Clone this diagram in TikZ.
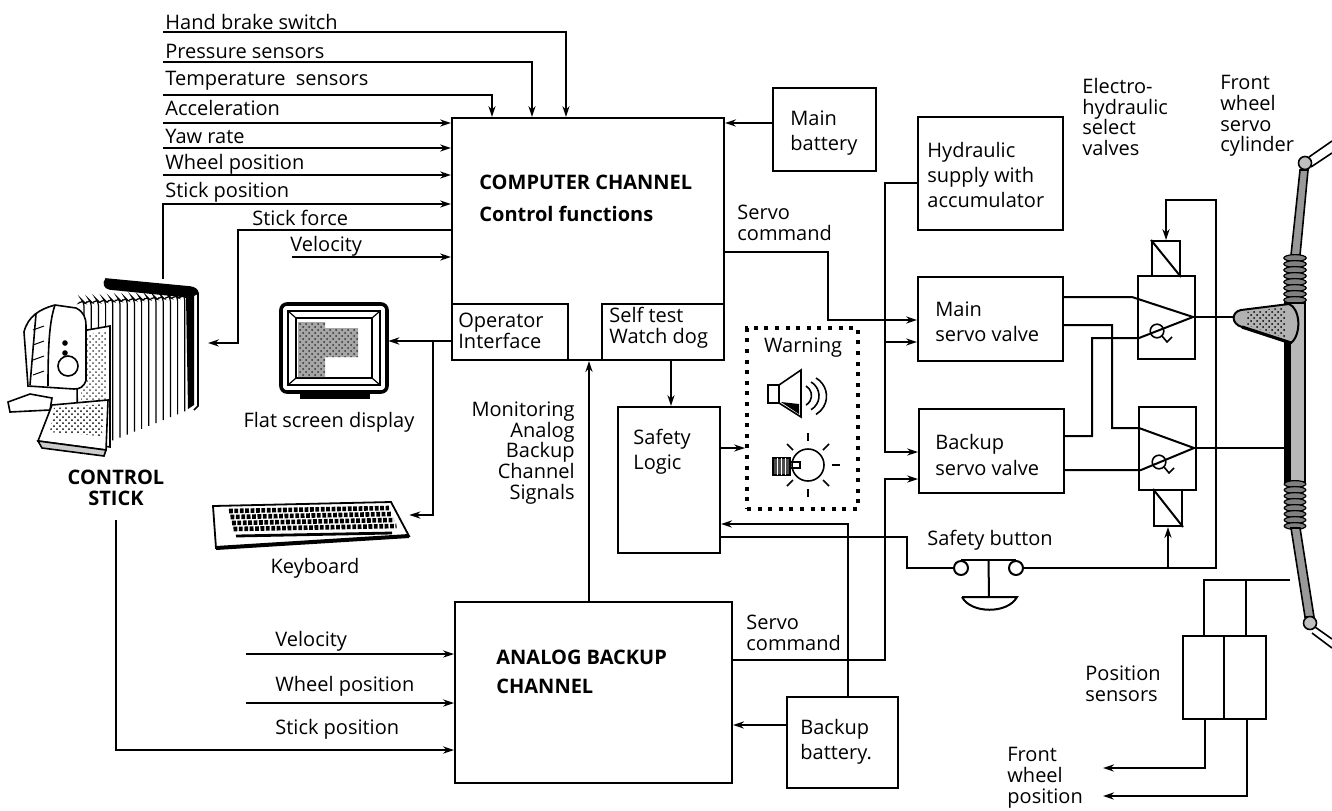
\documentclass[tikz,border=0pt]{standalone}
\usepackage{fontspec}
\setmainfont{Open Sans}
\usetikzlibrary{arrows.meta,fit,calc,patterns}
\newcommand\lblsize{\fontsize{10}{10.4}\selectfont}
\newcommand\lblwide{\fontsize{10}{12.6}\selectfont}

\begin{document}
\begin{tikzpicture}[x=0.5pt,y=-0.5pt,
  box/.style={draw,line width=1pt,inner sep=0pt},
  area/.style={inner sep=0pt},
  wire/.style={line width=1pt},
  arr/.style={wire,-{Stealth[length=5.5pt,width=3.6pt]}},
  lbl/.style={inner sep=0pt,align=left,font=\lblsize},
  lblw/.style={inner sep=0pt,align=left,font=\lblwide},
  hdr/.style={inner sep=0pt,align=left,font=\lblsize\bfseries},
  dotbox/.style={draw,line width=2pt,dash pattern=on 2pt off 3.3pt,inner sep=0pt},
  icon/.style={line width=0.8pt},
]
\useasboundingbox (0,0) rectangle (1332,810);

% ---------------- blocks ----------------
\node[box, fit={(452,118)(724,360)}] (cc) {};
\node[box, fit={(452,304)(568,360)}] (oi) {};
\node[box, fit={(602,304)(724,360)}] (st) {};
\node[box, fit={(773,88)(876,171)}] (mb) {};
\node[box, fit={(918,117)(1063,230)}] (hy) {};
\node[box, fit={(918,277)(1063,361)}] (msv) {};
\node[box, fit={(919,409)(1064,493)}] (bsv) {};
\node[box, fit={(618,407)(720,553)}] (sl) {};
\node[box, fit={(455,602)(732,783)}] (ab) {};
\node[box, fit={(787,697)(898,788)}] (bb) {};
\node[box, fit={(1138,276)(1195,359)}] (v1) {};
\node[box, fit={(1139,407)(1196,490)}] (v2) {};
\node[box, fit={(1152,241)(1180,276)}] (s1) {};
\node[box, fit={(1154,490)(1182,526)}] (s2) {};
\node[box, fit={(1183,636)(1224,719)}] (ps1) {};
\node[box, fit={(1224,636)(1266,719)}] (ps2) {};
\node[dotbox, fit={(747,328)(858,509)}] (warn) {};
\draw[wire] (s1.north west) -- (s1.south east);
\draw[wire] (s2.north west) -- (s2.south east);

% picture areas
\node[area, fit={(5,279)(200,456)}] (cs) {};
\node[area, fit={(280,303)(388,400)}] (scr) {};
\node[area, fit={(213,502)(409,548)}] (kbd) {};

% ---------------- texts ----------------
\node[lbl, anchor=west] (t-hb) at (165,22) {Hand brake switch};
\node[lbl, anchor=west] (t-pr) at (165,51) {Pressure sensors};
\node[lbl, anchor=west] (t-te) at (165,81) {Temperature\ \ sensors};
\node[lbl, anchor=west] (t-ac) at (165,108) {Acceleration};
\node[lbl, anchor=west] (t-yr) at (165,136) {Yaw rate};
\node[lbl, anchor=west] (t-wp) at (165,164) {Wheel position};
\node[lbl, anchor=west] (t-sp) at (165,192) {Stick position};
\node[lbl, anchor=west] (t-sf) at (252,218) {Stick force};
\node[lbl, anchor=west] (t-ve) at (290,246) {Velocity};

\node[hdr, anchor=west] (t-cc1) at (479,182) {COMPUTER CHANNEL};
\node[hdr, anchor=west] (t-cc2) at (479,214) {Control functions};
\node[lbl, anchor=west] (t-oi) at (458,331) {Operator\\Interface};
\node[lbl, anchor=west] (t-st) at (609,328) {Self test\\Watch dog};
\node[lblw, anchor=west] (t-mb) at (790,133) {Main\\battery};
\node[lbl, anchor=west] (t-sc1) at (737,223) {Servo\\command};
\node[lblw, anchor=west] (t-hy) at (927,175) {Hydraulic\\supply with\\accumulator};
\node[lblw, anchor=west] (t-msv) at (935,322) {Main\\servo valve};
\node[lblw, anchor=west] (t-bsv) at (935,455) {Backup\\servo valve};
\node[lbl, anchor=west] (t-ev) at (1082,117) {Electro-\\hydraulic\\select\\valves};
\node[lbl, anchor=west] (t-fw) at (1220,116) {Front\\wheel\\servo\\cylinder};
\node[lbl] (t-wa) at (803,348) {Warning};
\node[lblw, anchor=west] (t-sl) at (633,452) {Safety\\Logic};
\node[lbl, anchor=east, align=right] (t-mo) at (575,453) {Monitoring\\Analog\\Backup\\Channel\\Signals};
\node[lbl] (t-fs) at (329,422) {Flat screen display};
\node[lbl] (t-kb) at (315,568) {Keyboard};
\node[hdr, align=center] (t-cs) at (116,488) {CONTROL\\STICK};
\node[lbl] (t-sb) at (990,540) {Safety button};
\node[hdr, anchor=west] (t-ab) at (496,672) {ANALOG BACKUP\\[4pt]CHANNEL};
\node[lbl, anchor=west] (t-v2) at (275,641) {Velocity};
\node[lbl, anchor=west] (t-w2) at (275,686) {Wheel position};
\node[lbl, anchor=west] (t-s2) at (275,729) {Stick position};
\node[lbl, anchor=west] (t-sc2) at (746,633) {Servo\\command};
\node[lblw, anchor=west] (t-bb) at (800,742) {Backup\\battery.};
\node[lbl, anchor=west] (t-ps) at (1085,684) {Position\\sensors};
\node[lbl, anchor=west] (t-fp) at (1007,778) {Front\\wheel\\position};

% ---------------- sensor inputs ----------------
\coordinate (hb0) at (163,32);  \coordinate (hbx) at (566,0);
\coordinate (pr0) at (163,62);  \coordinate (prx) at (532,0);
\coordinate (te0) at (163,95);  \coordinate (tex) at (492,0);
\draw[arr] (hb0) -| (hbx |- cc.north);
\draw[arr] (pr0) -| (prx |- cc.north);
\draw[arr] (te0) -| (tex |- cc.north);
\coordinate (ac0) at (163,123);
\coordinate (yr0) at (163,148);
\coordinate (wp0) at (163,175);
\coordinate (sp0) at (163,204);
\coordinate (ve0) at (292,257);
\draw[arr] (ac0) -- (ac0 -| cc.west);
\draw[arr] (yr0) -- (yr0 -| cc.west);
\draw[arr] (wp0) -- (wp0 -| cc.west);
\draw[arr] (ve0) -- (ve0 -| cc.west);
\draw[arr] (sp0 |- cs.north) -- (sp0) -- (sp0 -| cc.west);
% stick force back to the control stick
\coordinate (sf0) at (238,230); \coordinate (sf1) at (238,343); \coordinate (sf2) at (208,343);
\draw[arr] (sf0 -| cc.west) -- (sf0) -- (sf1) -- (sf2);

% ---------------- computer channel links ----------------
\coordinate (mby) at (0,123);
\draw[arr] (mb.west |- mby) -- (cc.east |- mby);
\coordinate (sc1) at (828,252); \coordinate (sc2) at (828,320);
\draw[arr] (sc1 -| cc.east) -- (sc1) -- (sc2) -- (sc2 -| msv.west);
\coordinate (h1) at (885,183); \coordinate (h2) at (885,452); \coordinate (h3) at (885,342);
\draw[arr] (h1 -| hy.west) -- (h1) -- (h2) -- (h2 -| bsv.west);
\draw[arr] (h3) -- (h3 -| msv.west);
\coordinate (oy) at (433,341); \coordinate (ok) at (433,515);
\draw[wire] (oi.west |- oy) -- (oy);
\draw[arr] (oy) -- (scr.east |- oy);
\draw[arr] (oy) -- (ok) -- (kbd.east |- ok);
\coordinate (mox) at (589,0);
\draw[arr] (mox |- ab.north) -- (mox |- cc.south);
\coordinate (stx) at (671,0);
\draw[arr] (stx |- st.south) -- (stx |- sl.north);
\coordinate (swy) at (0,448);
\draw[arr] (sl.east |- swy) -- (warn.west |- swy);
\coordinate (bbx) at (848,0); \coordinate (bby) at (0,524);
\draw[arr] (bbx |- bb.north) -- (bbx |- bby) -- (sl.east |- bby);
\coordinate (bba) at (0,725);
\draw[arr] (bb.west |- bba) -- (ab.east |- bba);
\coordinate (b1) at (885,660); \coordinate (b2) at (885,479);
\draw[arr] (b1 -| ab.east) -- (b1) -- (b2) -- (b2 -| bsv.west);

% ---------------- analog backup inputs ----------------
\coordinate (av) at (246,654); \coordinate (aw) at (246,703); \coordinate (as) at (116,750);
\draw[arr] (av) -- (av -| ab.west);
\draw[arr] (aw) -- (aw -| ab.west);
\draw[arr] (t-cs.south |- 0,520) -- (as) -- (as -| ab.west);

% ---------------- safety button ----------------
\node[circle, draw, line width=1pt, minimum size=7pt, inner sep=0pt] (sb1) at (961,568) {};
\node[circle, draw, line width=1pt, minimum size=7pt, inner sep=0pt] (sb2) at (1016,568) {};
\draw[wire] (sb1.north) -- (sb2.north);
\draw[wire] ($(sb1.north)!0.5!(sb2.north)$) -- (989,597);
\draw[wire] (962,597) -- (1017,597) .. controls (1008,614) and (971,614) .. (962,597);
\coordinate (so1) at (907,537); \coordinate (so2) at (907,568);
\draw[wire] (so1 -| sl.east) -- (so1) -- (so2) -- (sb1.west);
\coordinate (fb1) at (1216,568); \coordinate (fb2) at (1216,200); \coordinate (fb3) at (1166,200);
\coordinate (fbj) at (1168,568);
\draw[arr] (sb2.east) -- (fb1) -- (fb2) -- (fb3) -- (fb3 |- s1.north);
\draw[arr] (fbj) -- (s2.south);

% ---------------- select valves ----------------
\coordinate (p1) at (1193,317);
\coordinate (p2) at (1194,448);
\draw[wire] (msv.east |- 0,297) -- (1132,297) -- (p1);
\draw[wire] (bsv.east |- 0,436) -- (1092,436) -- (1092,338) -- (1139,338) -- (p1);
\draw[wire] (msv.east |- 0,325) -- (1112,325) -- (1112,428) -- (1139,428) -- (p2);
\draw[wire] (bsv.east |- 0,470) -- (1141,470) -- (p2);
\draw[wire] (p1) -- (1234,317);
\draw[wire] (p2) -- (1284,448);
\draw[icon] (1157,331) circle [radius=3.4pt];
\draw[icon] (1162,336) -- (1167,342) -- (1172,337);
\draw[icon] (1159,462) circle [radius=3.4pt];
\draw[icon] (1164,467) -- (1169,473) -- (1174,468);

% ---------------- position sensors ----------------
\coordinate (q1) at (1204,580); \coordinate (q2) at (1246,580); \coordinate (q3) at (1290,580);
\draw[wire] (q1 |- ps1.north) -- (q1) -- (q3);
\draw[wire] (q2 |- ps2.north) -- (q2);
\coordinate (r1) at (1205,768); \coordinate (r2) at (1247,796);
\draw[arr] (r1 |- ps1.south) -- (r1) -- (1103,768);
\draw[arr] (r2 |- ps2.south) -- (r2) -- (1103,796);

% ---------------- front wheel servo cylinder ----------------
\draw[icon] (1309,157) -- (1332,141);
\draw[icon] (1311,167) -- (1332,153);
\filldraw[fill=black!40, icon] (1300,170) -- (1308,170) -- (1300,255) -- (1291,255) -- cycle;
\node[circle, draw, fill=black!25, line width=0.8pt, minimum size=6.5pt, inner sep=0pt] (ball1) at (1305,163) {};
\foreach \yy in {258,264,...,300} {
  \filldraw[fill=black!50, line width=0.6pt] (1295,\yy) ellipse [x radius=5.6pt, y radius=1.7pt];
}
\filldraw[fill=black!28, icon] (1285,303) rectangle (1305,482);
\fill (1285,303) rectangle (1291,482);
\foreach \yy in {484,490,...,526} {
  \filldraw[fill=black!50, line width=0.6pt] (1295,\yy) ellipse [x radius=5.4pt, y radius=1.7pt];
}
\filldraw[fill=black!40, icon] (1291,528) -- (1300,528) -- (1314,617) -- (1305,617) -- cycle;
\draw[icon] (1315,627) -- (1332,639);
\draw[icon] (1312,633) -- (1332,648);
\node[circle, draw, fill=black!25, line width=0.8pt, minimum size=6.5pt, inner sep=0pt] (ball2) at (1310,623) {};
\filldraw[fill=black!30, line width=1pt]
  (1241,310) -- (1289,304) .. controls (1300,308) and (1302,334) .. (1291,343)
  -- (1242,327) .. controls (1231,324) and (1231,312) .. (1241,310) -- cycle;
\fill[pattern=crosshatch dots, pattern color=black] (1247,312) -- (1285,307) -- (1286,338) -- (1247,325) -- cycle;
\draw[line width=1.6pt] (1242,327) -- (1291,343);

% ---------------- warning icons ----------------
\filldraw[fill=white, icon] (768,385) rectangle (779,403);
\filldraw[fill=white, icon] (779,385) -- (801,370) -- (801,417) -- (779,403) -- cycle;
\fill (781,402) -- (799,404) -- (799,414) -- cycle;
\draw[icon] (806,386) arc [start angle=60, end angle=-60, radius=5.5pt];
\draw[icon] (811,382) arc [start angle=60, end angle=-60, radius=8pt];
\draw[icon] (816,378) arc [start angle=60, end angle=-60, radius=10.5pt];
\draw[icon] (808,465) circle [radius=8pt];
\filldraw[fill=black!70, icon] (773,458) rectangle (790,475);
\foreach \xx in {777,781,785} { \draw[white, line width=0.5pt] (\xx,458) -- (\xx,475); }
\draw[icon] (790,462) -- (800,462) -- (800,468) -- (790,468);
\draw[icon] (808,433) -- (808,441);
\draw[icon] (808,489) -- (808,497);
\draw[icon] (832,465) -- (840,465);
\draw[icon] (787,444) -- (793,450);
\draw[icon] (823,450) -- (829,444);
\draw[icon] (823,480) -- (829,486);
\draw[icon] (787,486) -- (793,480);

% ---------------- flat screen display ----------------
\filldraw[fill=white, line width=1.8pt, rounded corners=3pt] (281,304) rectangle (387,392);
\draw[line width=0.7pt] (288,311) rectangle (380,385);
\draw[line width=0.9pt] (296,318) rectangle (372,378);
\draw[line width=0.6pt] (288,311) -- (296,318) (380,311) -- (372,318) (380,385) -- (372,378) (288,385) -- (296,378);
\fill[black!35] (298,322) -- (325,322) -- (325,328) -- (358,328) -- (358,357) -- (325,357) -- (325,377) -- (298,377) -- cycle;
\fill[pattern=crosshatch dots, pattern color=black!80]
  (298,322) -- (325,322) -- (325,328) -- (358,328) -- (358,357) -- (325,357) -- (325,377) -- (298,377) -- cycle;
\fill (300,392) rectangle (370,399);

% ---------------- keyboard ----------------
\filldraw[fill=white, line width=0.9pt] (213,506) -- (391,502) -- (409,536) -- (216,548) -- cycle;
\draw[line width=2pt] (216,548) -- (409,536);
\foreach \r in {0,1,2,3} {
  \draw[line width=2.3pt, dash pattern=on 1.9pt off 0.8pt] (229+\r*1.5,511+\r*6) -- (389+\r*2.5,508+\r*6);
}
\draw[line width=1.4pt] (236,536) -- (392,533);

% ---------------- control stick ----------------
% housing
\filldraw[fill=black, icon] (106,279) .. controls (103,283) and (104,288) .. (110,289)
  -- (190,297) -- (198,293) .. controls (197,289) and (195,288) .. (190,287) -- cycle;
\draw[icon] (198,293) -- (198,406) -- (194,410);
\fill (186,297) -- (194,295) -- (194,405) -- (188,409) -- cycle;
% fins
\foreach \i in {0,...,14} {
  \pgfmathsetmacro\fx{80+\i*7.2}
  \pgfmathsetmacro\ft{302-\i*0.4}
  \pgfmathsetmacro\fb{452-\i*2.9}
  \draw[line width=0.6pt, rounded corners=2pt] (\fx,\ft) -- (\fx+2,\ft-2) -- (\fx+4,\ft) -- (\fx+4,\fb);
}
% front plate
\filldraw[fill=white, icon] (76,332) -- (110,326) -- (110,447) -- (78,442) -- cycle;
\fill[pattern=crosshatch dots, pattern color=black!70] (80,336) -- (106,331) -- (106,443) -- (82,439) -- cycle;
% grip
\filldraw[fill=white, icon] (24,332) .. controls (28,316) and (40,309) .. (55,305)
  -- (76,308) .. controls (84,312) and (86,318) .. (86,326) -- (86,380)
  .. controls (84,387) and (80,389) .. (74,389) -- (28,386) -- cycle;
\draw[icon] (55,305) .. controls (50,320) and (48,340) .. (48,386);
\draw[icon] (36,314) -- (30,385);
\foreach \yy in {330,345,360,375} { \draw[line width=0.5pt] (33,\yy) -- (44,\yy-4); }
\draw[icon] (68,366) circle [radius=5pt];
\fill (65,343) circle [radius=1.4pt];
\fill (65,353) circle [radius=1.4pt];
% foot and tray
\filldraw[fill=white, icon] (8,402) -- (30,394) -- (52,398) -- (50,410) -- (10,412) -- cycle;
\filldraw[fill=white, icon] (38,441) -- (52,405) -- (108,400) -- (106,450) -- cycle;
\fill[pattern=crosshatch dots, pattern color=black] (54,408) -- (104,404) -- (102,436) -- (50,432) -- cycle;
\filldraw[fill=black!20, icon] (38,441) -- (106,450) -- (104,456) -- (42,448) -- cycle;

\end{tikzpicture}
\end{document}
